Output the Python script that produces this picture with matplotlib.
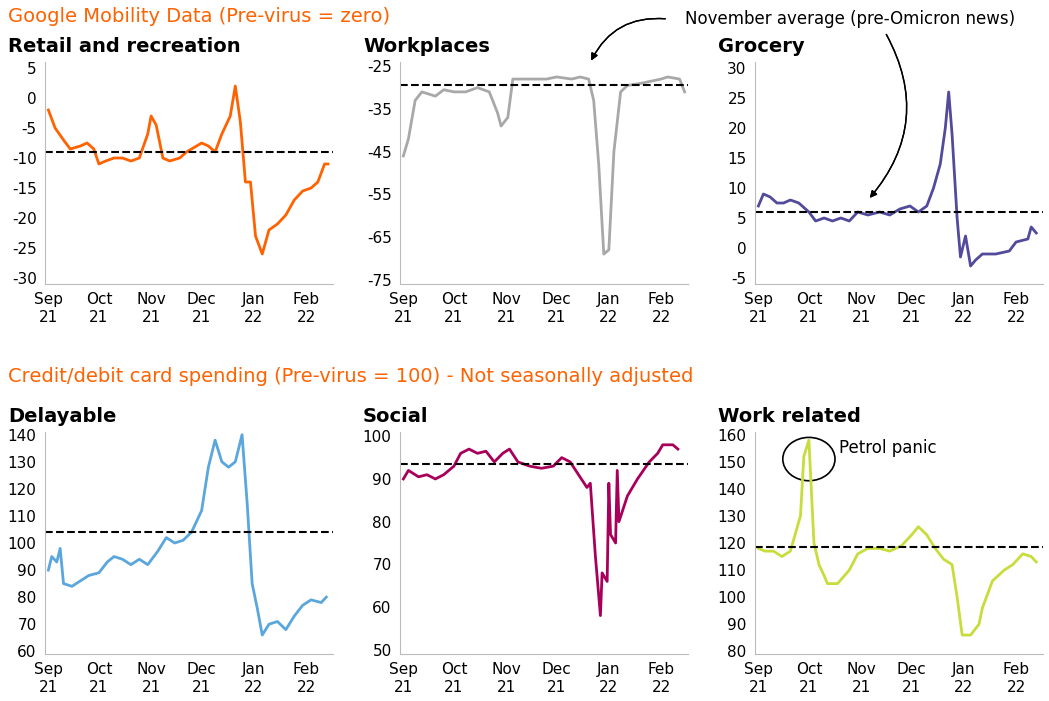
import numpy as np
import pandas as pd
import matplotlib.pyplot as plt
import matplotlib.dates as mdates
from matplotlib.patches import Ellipse

retail_dates = ['2021-09-01', '2021-09-05', '2021-09-10', '2021-09-14', '2021-09-20', '2021-09-24', '2021-09-28', '2021-10-01', '2021-10-05', '2021-10-10', '2021-10-15', '2021-10-20', '2021-10-25', '2021-10-30', '2021-11-01', '2021-11-04', '2021-11-08', '2021-11-12', '2021-11-18', '2021-11-22', '2021-11-28', '2021-12-01', '2021-12-05', '2021-12-09', '2021-12-13', '2021-12-18', '2021-12-21', '2021-12-24', '2021-12-27', '2021-12-30', '2022-01-02', '2022-01-06', '2022-01-10', '2022-01-15', '2022-01-20', '2022-01-25', '2022-01-30', '2022-02-04', '2022-02-08', '2022-02-12', '2022-02-14']
retail = [-2, -5, -7, -8.5, -8, -7.5, -8.5, -11, -10.5, -10, -10, -10.5, -10, -6, -3, -4.5, -10, -10.5, -10, -9, -8, -7.5, -8, -9, -6, -3, 2, -4, -14, -14, -23, -26, -22, -21, -19.5, -17, -15.5, -15, -14, -11, -11]

work_dates = ['2021-09-01', '2021-09-04', '2021-09-08', '2021-09-12', '2021-09-16', '2021-09-20', '2021-09-25', '2021-10-01', '2021-10-08', '2021-10-15', '2021-10-22', '2021-10-27', '2021-10-29', '2021-11-02', '2021-11-05', '2021-11-15', '2021-11-25', '2021-12-01', '2021-12-10', '2021-12-15', '2021-12-20', '2021-12-23', '2021-12-26', '2021-12-29', '2022-01-01', '2022-01-04', '2022-01-08', '2022-01-12', '2022-01-20', '2022-02-01', '2022-02-05', '2022-02-12', '2022-02-15']
workplaces = [-46, -42, -33, -31, -31.5, -32, -30.5, -31, -31, -30, -31, -36, -39, -37, -28, -28, -28, -27.5, -28, -27.5, -28, -33, -48, -69, -68, -45, -31, -29.5, -29, -28, -27.5, -28, -31]

groc_dates = ['2021-09-01', '2021-09-04', '2021-09-08', '2021-09-12', '2021-09-16', '2021-09-20', '2021-09-25', '2021-10-01', '2021-10-05', '2021-10-10', '2021-10-15', '2021-10-20', '2021-10-25', '2021-10-30', '2021-11-05', '2021-11-12', '2021-11-18', '2021-11-24', '2021-11-30', '2021-12-05', '2021-12-10', '2021-12-14', '2021-12-18', '2021-12-21', '2021-12-23', '2021-12-25', '2021-12-28', '2021-12-30', '2022-01-02', '2022-01-05', '2022-01-08', '2022-01-12', '2022-01-20', '2022-01-28', '2022-02-01', '2022-02-08', '2022-02-10', '2022-02-13']
grocery = [7, 9, 8.5, 7.5, 7.5, 8, 7.5, 6, 4.5, 5, 4.5, 5, 4.5, 6, 5.5, 6, 5.5, 6.5, 7, 6, 7, 10, 14, 20, 26, 19, 5, -1.5, 2, -3, -2, -1, -1, -0.5, 1, 1.5, 3.5, 2.5]

delay_dates = ['2021-09-01', '2021-09-03', '2021-09-06', '2021-09-08', '2021-09-10', '2021-09-15', '2021-09-20', '2021-09-25', '2021-10-01', '2021-10-06', '2021-10-10', '2021-10-15', '2021-10-20', '2021-10-25', '2021-10-30', '2021-11-05', '2021-11-10', '2021-11-15', '2021-11-20', '2021-11-25', '2021-12-01', '2021-12-05', '2021-12-09', '2021-12-13', '2021-12-17', '2021-12-21', '2021-12-25', '2021-12-28', '2021-12-31', '2022-01-03', '2022-01-06', '2022-01-10', '2022-01-15', '2022-01-20', '2022-01-25', '2022-01-30', '2022-02-04', '2022-02-10', '2022-02-13']
delayable = [90, 95, 93, 98, 85, 84, 86, 88, 89, 93, 95, 94, 92, 94, 92, 97, 102, 100, 101, 104, 112, 128, 138, 130, 128, 130, 140, 115, 85, 76, 66, 70, 71, 68, 73, 77, 79, 78, 80]

social_dates = ['2021-09-01', '2021-09-04', '2021-09-10', '2021-09-15', '2021-09-20', '2021-09-25', '2021-10-01', '2021-10-05', '2021-10-10', '2021-10-15', '2021-10-20', '2021-10-25', '2021-10-30', '2021-11-03', '2021-11-08', '2021-11-15', '2021-11-22', '2021-11-29', '2021-12-04', '2021-12-09', '2021-12-14', '2021-12-19', '2021-12-21', '2021-12-24', '2021-12-27', '2021-12-28', '2021-12-31', '2022-01-01', '2022-01-02', '2022-01-05', '2022-01-06', '2022-01-07', '2022-01-12', '2022-01-18', '2022-01-25', '2022-01-30', '2022-02-02', '2022-02-08', '2022-02-11']
social = [90, 92, 90.5, 91, 90, 91, 93, 96, 97, 96, 96.5, 94, 96, 97, 94, 93, 92.5, 93, 95, 94, 91, 88, 89, 72, 58, 68, 66, 89, 77, 75, 92, 80, 86, 90, 94, 96, 98, 98, 97]

wr_dates = ['2021-09-01', '2021-09-05', '2021-09-10', '2021-09-15', '2021-09-20', '2021-09-26', '2021-09-28', '2021-10-01', '2021-10-04', '2021-10-07', '2021-10-10', '2021-10-12', '2021-10-18', '2021-10-25', '2021-10-30', '2021-11-05', '2021-11-12', '2021-11-18', '2021-11-25', '2021-12-01', '2021-12-05', '2021-12-10', '2021-12-15', '2021-12-20', '2021-12-25', '2021-12-28', '2021-12-31', '2022-01-05', '2022-01-10', '2022-01-12', '2022-01-18', '2022-01-25', '2022-01-30', '2022-02-05', '2022-02-10', '2022-02-13']
work_related = [118, 117, 117, 115, 117, 130, 152, 158, 120, 112, 108, 105, 105, 110, 116, 118, 118, 117, 119, 123, 126, 123, 118, 114, 112, 100, 86, 86, 90, 96, 106, 110, 112, 116, 115, 113]

titles = ['Retail and recreation', 'Workplaces', 'Grocery', 'Delayable', 'Social', 'Work related']
averages = [-9, -29.5, 6, 104, 93.5, 118.5]
yticks = [np.arange(-30, 6, 5), np.arange(-75, -24, 10), np.arange(-5, 31, 5),
          np.arange(60, 141, 10), np.arange(50, 101, 10), np.arange(80, 161, 10)]
colors = ['#FF6200', '#A8A8A8', '#524A9A', '#5AA6DD', '#A8005A', '#C8DC3C']
series = [(retail_dates, retail), (work_dates, workplaces), (groc_dates, grocery),
          (delay_dates, delayable), (social_dates, social), (wr_dates, work_related)]

plt.rcParams['font.family'] = 'DejaVu Sans'
plt.rcParams['axes.unicode_minus'] = False
fig = plt.figure(figsize=(10.49, 7.01), dpi=100)
W, H = 1049, 701
lefts = [45, 400, 755]
row_top = [62, 432]
axes = []
for i, (d, v) in enumerate(series):
    l = lefts[i % 3]
    t = row_top[i // 3]
    ax = fig.add_axes([l / W, 1 - (t + 222) / H, 288 / W, 222 / H])
    ax.plot(pd.to_datetime(d), v, color=colors[i], lw=2)
    ax.axhline(averages[i], color='black', ls='--', lw=1.5)
    ax.set_yticks(yticks[i])
    ax.set_ylim(yticks[i][0] - 1, yticks[i][-1] + 1)
    ax.set_xlim(pd.Timestamp('2021-08-30'), pd.Timestamp('2022-02-17'))
    ax.xaxis.set_major_locator(mdates.MonthLocator())
    ax.xaxis.set_major_formatter(mdates.DateFormatter('%b\n%y'))
    ax.tick_params(labelsize=11, length=0, pad=6)
    for s in ['top', 'right']:
        ax.spines[s].set_visible(False)
    for s in ['left', 'bottom']:
        ax.spines[s].set_color('#bbbbbb')
    fig.text((l - 37) / W, 1 - (t - 16) / H, titles[i], fontsize=14, fontweight='bold', va='center')
    axes.append(ax)

fig.text(8 / W, 1 - 16 / H, 'Google Mobility Data (Pre-virus = zero)', color='#FF6200', fontsize=14, va='center')
fig.text(8 / W, 1 - 376 / H, 'Credit/debit card spending (Pre-virus = 100) - Not seasonally adjusted',
         color='#FF6200', fontsize=14, va='center')

# annotation arrows from the common label
fig.text(850 / W, 1 - 19 / H, 'November average (pre-Omicron news)', fontsize=12, ha='center', va='center')
fig.add_artist(plt.annotate('', xy=(590 / W, 1 - 63 / H), xytext=(668 / W, 1 - 19 / H),
                            xycoords='figure fraction', textcoords='figure fraction',
                            arrowprops=dict(arrowstyle='-|>', color='black', lw=1,
                                            connectionstyle='arc3,rad=0.35')))
fig.add_artist(plt.annotate('', xy=(868 / W, 1 - 200 / H), xytext=(885 / W, 1 - 32 / H),
                            xycoords='figure fraction', textcoords='figure fraction',
                            arrowprops=dict(arrowstyle='-|>', color='black', lw=1,
                                            connectionstyle='arc3,rad=-0.35')))

# petrol panic circle
ax = axes[5]
ax.add_patch(Ellipse((mdates.date2num(pd.Timestamp('2021-10-01')), 151), 31, 16,
                     fill=False, color='black', lw=1.2, clip_on=False))
ax.text(mdates.date2num(pd.Timestamp('2021-10-19')), 155, 'Petrol panic', fontsize=12, va='center')

plt.savefig('out.png', dpi=100)
